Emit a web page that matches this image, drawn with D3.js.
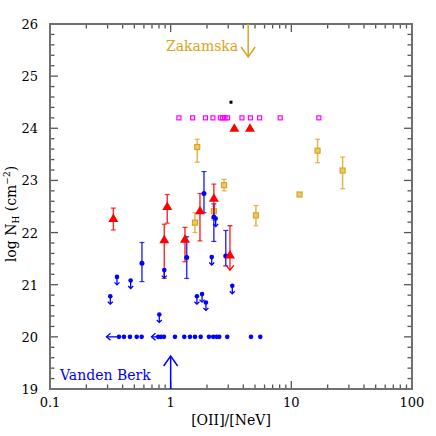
<!DOCTYPE html>
<html><head><meta charset="utf-8">
<script src="https://cdn.jsdelivr.net/npm/d3@7"></script>
<style>body{margin:0;background:#fff}svg{display:block}</style>
</head><body><svg id="c" width="436" height="436"></svg>
<script>
// ---- data ----
const xDomain = [0.1, 100];
const yDomain = [19, 26];
const xTickLabels = ["0.1", "1", "10", "100"];
const xTickValues = [0.1, 1, 10, 100];
const yTickValues = [19, 20, 21, 22, 23, 24, 25, 26];

// red triangles with error bars
const redX  = [0.335, 0.937, 0.885, 1.314, 1.749, 2.28, 3.10];
const redY  = [22.27, 22.50, 21.86, 21.87, 22.42, 22.66, 21.57];
const redLo = [22.05, 22.18, 21.12, 21.44, 21.84, 22.27, 21.28];
const redHi = [22.47, 22.73, 22.16, 22.10, 22.75, 22.93, 22.13];
const redLoArrow = [false, false, false, false, false, false, true];
// red triangles without bars
const redLimX = [3.37, 4.54];
const redLimY = [24.0, 24.0];

// blue detections with error bars
const blueX  = [0.578, 1.358, 1.888, 2.28, 2.86];
const blueY  = [21.41, 21.52, 22.75, 22.30, 21.55];
const blueLo = [21.06, 21.12, 22.38, 21.83, 21.36];
const blueHi = [21.81, 21.92, 23.17, 22.55, 22.04];
// blue upper limits (downward arrows)
const blueUlX = [0.316, 0.359, 0.466, 0.805, 0.885, 1.65, 1.82, 1.96, 2.19, 2.36, 3.24];
const blueUlY = [20.78, 21.15, 21.08, 20.43, 21.28, 20.78, 20.82, 20.66, 21.53, 22.27, 20.98];
// blue points at the floor
const blueFloorX = [0.373, 0.410, 0.460, 0.523, 0.575, 0.789, 0.831, 0.880, 1.085, 1.296, 1.445, 1.59, 1.773, 2.076, 2.254, 2.405, 2.527, 2.944, 4.63, 5.53];
const blueFloorY = 20.0;
const blueFloorLeft = [0.373, 0.880];

// gold squares
const goldX  = [1.66, 1.59, 2.28, 2.77, 5.09, 16.5, 26.6, 11.7];
const goldY  = [23.64, 22.19, 22.41, 22.91, 22.33, 23.57, 23.19, 22.73];
const goldLo = [23.35, 22.00, 22.24, 22.80, 22.13, 23.34, 22.84, 22.73];
const goldHi = [23.79, 22.38, 22.51, 23.02, 22.52, 23.79, 23.45, 22.73];

// magenta open squares
const magX = [1.17, 1.52, 1.94, 2.24, 2.58, 2.69, 2.82, 2.96, 3.90, 4.58, 5.46, 8.09, 16.9];
const magY = 24.2;

// black point
const blackX = [3.16];
const blackY = [24.5];

// annotations
const zakX = 4.39, zakLabel = "Zakamska";
const vbX = 1.0, vbLabel = "Vanden Berk";

// ---- layout ----
const L = 50, R = 412, T = 24, B = 389;
const RED = "#ff0000", BLUE = "#0000ff", GOLD = "#daa520", MAG = "#ff00ff";
const FONT = "DejaVu Serif";

const svg = d3.select("#c");
const x = d3.scaleLog().domain(xDomain).range([L, R]);
const y = d3.scaleLinear().domain(yDomain).range([B, T]);

// ticks
const minorX = [];
[0.1, 1, 10].forEach(d => { for (let k = 2; k <= 9; k++) minorX.push(d * k); });
const minorY = d3.range(19, 26.001, 0.2).filter(v => Math.abs(v - Math.round(v)) > 1e-6);
const tk = svg.append("g").attr("stroke", "#555").attr("stroke-width", 1.3);
function xt(vals, len) {
  vals.forEach(v => {
    tk.append("line").attr("x1", x(v)).attr("x2", x(v)).attr("y1", B).attr("y2", B - len);
    tk.append("line").attr("x1", x(v)).attr("x2", x(v)).attr("y1", T).attr("y2", T + len);
  });
}
function yt(vals, len) {
  vals.forEach(v => {
    tk.append("line").attr("y1", y(v)).attr("y2", y(v)).attr("x1", L).attr("x2", L + len);
    tk.append("line").attr("y1", y(v)).attr("y2", y(v)).attr("x1", R).attr("x2", R - len);
  });
}
xt(xTickValues, 8); xt(minorX, 4.5);
yt(yTickValues, 8); yt(minorY, 4.5);

svg.append("rect").attr("x", L).attr("y", T).attr("width", R - L).attr("height", B - T)
  .attr("fill", "none").attr("stroke", "#707070").attr("stroke-width", 2);

// tick labels
svg.append("g").selectAll("text").data(xTickValues).join("text")
  .attr("x", d => x(d)).attr("y", 407).attr("text-anchor", "middle")
  .attr("font-family", FONT).attr("font-size", 13).attr("fill", "#000")
  .text((d, i) => xTickLabels[i]);
svg.append("g").selectAll("text").data(yTickValues).join("text")
  .attr("x", 38).attr("y", d => y(d) + 5).attr("text-anchor", "end")
  .attr("font-family", FONT).attr("font-size", 13).attr("fill", "#000")
  .text(d => d);

// axis titles
svg.append("text").attr("x", (L + R) / 2).attr("y", 425).attr("text-anchor", "middle")
  .attr("font-family", FONT).attr("font-size", 14).text("[OII]/[NeV]");
const yl = svg.append("text").attr("transform", "translate(16,214) rotate(-90)")
  .attr("text-anchor", "middle").attr("font-family", FONT).attr("font-size", 14);
yl.append("tspan").text("log N");
yl.append("tspan").attr("font-size", 9).attr("dy", 3).text("H");
yl.append("tspan").attr("dy", -3).text(" (cm");
yl.append("tspan").attr("font-size", 9).attr("dy", -6).text("−2");
yl.append("tspan").attr("dy", 6).text(")");

const g = svg.append("g");

// helper: error bar
function ebar(xv, lo, hi, col, w) {
  const X = x(xv);
  g.append("line").attr("x1", X).attr("x2", X).attr("y1", y(lo)).attr("y2", y(hi))
    .attr("stroke", col).attr("stroke-width", w).attr("stroke-opacity", 0.8);
  [lo, hi].forEach(v => g.append("line").attr("x1", X - 2.5).attr("x2", X + 2.5)
    .attr("y1", y(v)).attr("y2", y(v)).attr("stroke", col).attr("stroke-width", 1.2).attr("stroke-opacity", 0.8));
}
function downArrow(X, Y0, len, col, hw) {
  g.append("line").attr("x1", X).attr("x2", X).attr("y1", Y0).attr("y2", Y0 + len)
    .attr("stroke", col).attr("stroke-width", 1.3);
  g.append("path").attr("d", `M${X - hw},${Y0 + len - hw}L${X},${Y0 + len}L${X + hw},${Y0 + len - hw}`)
    .attr("fill", "none").attr("stroke", col).attr("stroke-width", 1.3);
}

// gold
goldX.forEach((xv, i) => { if (goldHi[i] > goldLo[i]) ebar(xv, goldLo[i], goldHi[i], GOLD, 1.5); });
g.selectAll(".gold").data(goldX).join("rect")
  .attr("x", d => x(d) - 2.5).attr("y", (d, i) => y(goldY[i]) - 2.5)
  .attr("width", 5).attr("height", 5).attr("fill", "#ecc868").attr("stroke", GOLD).attr("stroke-width", 1.2);

// blue error bars
blueX.forEach((xv, i) => ebar(xv, blueLo[i], blueHi[i], BLUE, 1.5));
// red error bars
redX.forEach((xv, i) => {
  if (redLoArrow[i]) {
    const X = x(xv);
    g.append("line").attr("x1", X).attr("x2", X).attr("y1", y(redHi[i])).attr("y2", y(redLo[i]))
      .attr("stroke", RED).attr("stroke-width", 1.5).attr("stroke-opacity", 0.8);
    g.append("line").attr("x1", X - 2.5).attr("x2", X + 2.5).attr("y1", y(redHi[i])).attr("y2", y(redHi[i]))
      .attr("stroke", RED).attr("stroke-width", 1.2);
    g.append("path").attr("d", `M${X - 4},${y(redLo[i]) - 5}L${X},${y(redLo[i])}L${X + 4},${y(redLo[i]) - 5}`)
      .attr("fill", "none").attr("stroke", RED).attr("stroke-width", 1.3);
  } else ebar(xv, redLo[i], redHi[i], RED, 1.5);
});

// blue upper limits
blueUlX.forEach((xv, i) => downArrow(x(xv), y(blueUlY[i]), 8, BLUE, 2.5));
g.selectAll(".bul").data(blueUlX).join("circle")
  .attr("cx", d => x(d)).attr("cy", (d, i) => y(blueUlY[i])).attr("r", 2.3).attr("fill", BLUE);

// blue floor
blueFloorLeft.forEach(xv => {
  const X = x(xv), Y = y(blueFloorY);
  g.append("line").attr("x1", X).attr("x2", X - 12.5).attr("y1", Y).attr("y2", Y).attr("stroke", BLUE).attr("stroke-width", 1.3);
  g.append("path").attr("d", `M${X - 8.5},${Y - 3.5}L${X - 12.5},${Y}L${X - 8.5},${Y + 3.5}`)
    .attr("fill", "none").attr("stroke", BLUE).attr("stroke-width", 1.3);
});
g.selectAll(".bf").data(blueFloorX).join("circle")
  .attr("cx", d => x(d)).attr("cy", y(blueFloorY)).attr("r", 2.3).attr("fill", BLUE);

// blue detections
g.selectAll(".bd").data(blueX).join("circle")
  .attr("cx", d => x(d)).attr("cy", (d, i) => y(blueY[i])).attr("r", 2.5).attr("fill", BLUE);

// red triangles
const tri = (X, Y) => `M${X},${Y - 5}L${X + 5},${Y + 3.5}L${X - 5},${Y + 3.5}Z`;
g.selectAll(".rt").data(redX).join("path")
  .attr("d", (d, i) => tri(x(d), y(redY[i]))).attr("fill", RED);
g.selectAll(".rl").data(redLimX).join("path")
  .attr("d", (d, i) => tri(x(d), y(redLimY[i]))).attr("fill", RED);

// magenta
g.selectAll(".mg").data(magX).join("rect")
  .attr("x", d => x(d) - 2).attr("y", y(magY) - 2).attr("width", 4).attr("height", 4)
  .attr("fill", "none").attr("stroke", MAG).attr("stroke-width", 1.2);

// black
g.selectAll(".bk").data(blackX).join("rect")
  .attr("x", d => x(d) - 1.5).attr("y", (d, i) => y(blackY[i]) - 1.5).attr("width", 3).attr("height", 3).attr("fill", "#000");

// annotations
{
  const X = x(zakX);
  g.append("line").attr("x1", X).attr("x2", X).attr("y1", T).attr("y2", 57).attr("stroke", GOLD).attr("stroke-width", 1.5);
  g.append("path").attr("d", `M${X - 7},${47}L${X},${57}L${X + 7},${47}`).attr("fill", "none").attr("stroke", GOLD).attr("stroke-width", 1.5);
  svg.append("text").attr("x", X - 10).attr("y", 51).attr("text-anchor", "end")
    .attr("font-family", FONT).attr("font-size", 14).attr("fill", GOLD).text(zakLabel);
}
{
  const X = x(vbX);
  g.append("line").attr("x1", X).attr("x2", X).attr("y1", B).attr("y2", 356).attr("stroke", BLUE).attr("stroke-width", 1.5);
  g.append("path").attr("d", `M${X - 7},${366}L${X},${356}L${X + 7},${366}`).attr("fill", "none").attr("stroke", BLUE).attr("stroke-width", 1.5);
  svg.append("text").attr("x", 60).attr("y", 380).attr("text-anchor", "start")
    .attr("font-family", FONT).attr("font-size", 14).attr("fill", BLUE).text(vbLabel);
}
</script></body></html>
